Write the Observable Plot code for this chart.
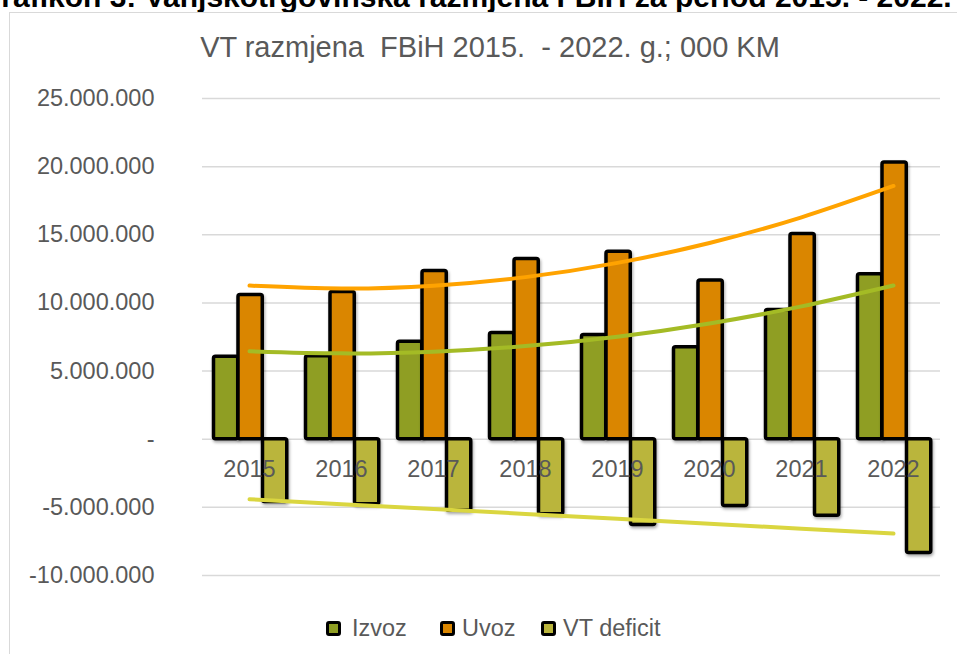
<!DOCTYPE html>
<html>
<head>
<meta charset="utf-8">
<script src="https://cdn.jsdelivr.net/npm/d3@7"></script>
<script src="https://cdn.jsdelivr.net/npm/@observablehq/plot@0.6"></script>
<style>
  body { margin: 0; background: #fff; font-family: "Liberation Sans", Arial, sans-serif; }
  #wrap { position: relative; width: 957px; height: 654px; overflow: hidden; background: #fff; }
  #toptext { position: absolute; left: -22px; top: -18px; font: bold 30px/30px "Liberation Sans", Arial, sans-serif; color: #000; white-space: pre; }
  #frame { position: absolute; left: 9px; top: 12px; width: 1000px; height: 700px; border: 1.5px solid #d9d9d9; box-sizing: border-box; background: #fff; }
  #chart { position: absolute; left: 0; top: 0; }
  #title { position: absolute; left: 0; width: 980px; top: 30px; text-align: center; font-size: 29px; line-height: 34px; color: #595959; white-space: pre; }
  .leg { position: absolute; top: 614px; font-size: 23.5px; line-height: 28px; color: #595959; white-space: pre; }
  .sw { position: absolute; top: 621px; width: 15px; height: 15px; border: 3px solid #000; border-radius: 3px; box-sizing: border-box; }
  svg g[aria-label="bar"] { filter: drop-shadow(1.5px 2px 1.5px rgba(0,0,0,0.35)); }
</style>
</head>
<body>
<div id="wrap">
  <div id="toptext">Grafikon 3: Vanjskotrgovinska razmjena FBiH za period 2015. - 2022.</div>
  <div id="frame"></div>
  <div id="chart"></div>
  <div id="title">VT razmjena  FBiH 2015.  - 2022. g.; 000 KM</div>
  <div class="sw" style="left:326px;background:#8f9e23"></div>
  <div class="leg" style="left:352px">Izvoz</div>
  <div class="sw" style="left:440px;background:#da8600"></div>
  <div class="leg" style="left:462px">Uvoz</div>
  <div class="sw" style="left:541px;background:#bab53c"></div>
  <div class="leg" style="left:563px">VT deficit</div>
</div>
<script>
// ---- data (000 KM) ----
const years = ["2015", "2016", "2017", "2018", "2019", "2020", "2021", "2022"];
const izvoz = [6050000, 6080000, 7160000, 7800000, 7650000, 6740000, 9480000, 12100000];
const uvoz = [10580000, 10800000, 12340000, 13220000, 13760000, 11640000, 15050000, 20300000];
const deficit = [-4600000, -4780000, -5250000, -5500000, -6300000, -4900000, -5620000, -8350000];
const yTicks = [-10000000, -5000000, 0, 5000000, 10000000, 15000000, 20000000, 25000000];

// least-squares polynomial trend (as in the spreadsheet trendlines)
function polyTrend(ys, deg) {
  const m = deg + 1, xs = ys.map((_, i) => i + 1);
  const A = Array.from({length: m}, (_, r) => {
    const row = [];
    for (let c = 0; c < m; c++) row.push(d3.sum(xs, x => x ** (r + c)));
    row.push(d3.sum(xs, (x, i) => ys[i] * x ** r));
    return row;
  });
  for (let p = 0; p < m; p++) {
    for (let r = p + 1; r < m; r++) {
      const f = A[r][p] / A[p][p];
      for (let c = p; c <= m; c++) A[r][c] -= f * A[p][c];
    }
  }
  const coef = Array(m).fill(0);
  for (let r = m - 1; r >= 0; r--) {
    let s = A[r][m];
    for (let c = r + 1; c < m; c++) s -= A[r][c] * coef[c];
    coef[r] = s / A[r][r];
  }
  return xs.map(x => coef.reduce((acc, k, j) => acc + k * x ** j, 0));
}
const trendIzvoz = polyTrend(izvoz, 2);
const trendUvoz = polyTrend(uvoz, 2);
const trendDeficit = polyTrend(deficit, 1);

const rows = years.map((year, i) => ({
  year, izvoz: izvoz[i], uvoz: uvoz[i], deficit: deficit[i],
  tIzvoz: trendIzvoz[i], tUvoz: trendUvoz[i], tDeficit: trendDeficit[i]
}));

const locale = d3.formatLocale({decimal: ",", thousands: ".", grouping: [3], currency: ["", ""], minus: "-"});
const fmt = locale.format(",d");

const W = 957, mL = 202, mR = 17;
const bw = (W - mL - mR) / years.length;
const barW = 24.5;
const barOpts = (left) => ({insetLeft: left, insetRight: bw - left - barW});

const plot = Plot.plot({
  width: W,
  height: 654,
  marginLeft: mL,
  marginRight: mR,
  marginTop: 98,
  marginBottom: 79,
  style: {fontFamily: "'Liberation Sans', Arial, sans-serif", fontSize: "23.5px", color: "#595959", background: "transparent"},
  x: {type: "band", domain: years, padding: 0, axis: null},
  y: {domain: [-10000000, 25000000], axis: null},
  marks: [
    Plot.gridY(yTicks, {stroke: "#d9d9d9", strokeOpacity: 1, strokeWidth: 1.5}),
    Plot.barY(rows, {x: "year", y: "izvoz", fill: "#8f9e23", stroke: "#000", strokeWidth: 3.5, strokeLinejoin: "round", rx: 2, ...barOpts(10.5)}),
    Plot.barY(rows, {x: "year", y: "uvoz", fill: "#da8600", stroke: "#000", strokeWidth: 3.5, strokeLinejoin: "round", rx: 2, ...barOpts(35)}),
    Plot.barY(rows, {x: "year", y: "deficit", fill: "#bab53c", stroke: "#000", strokeWidth: 3.5, strokeLinejoin: "round", rx: 2, ...barOpts(59.5)}),
    Plot.line(rows, {x: "year", y: "tUvoz", stroke: "#ffa300", strokeWidth: 4, curve: "natural"}),
    Plot.line(rows, {x: "year", y: "tIzvoz", stroke: "#a4bb25", strokeWidth: 4, curve: "natural"}),
    Plot.line(rows, {x: "year", y: "tDeficit", stroke: "#dad640", strokeWidth: 4}),
    Plot.text(years, {x: d => d, y: () => 0, dy: 30, text: d => d, fill: "#595959", fontSize: 23.5}),
    Plot.axisY(yTicks, {tickSize: 0, tickPadding: 48, tickFormat: d => d === 0 ? "-" : fmt(d), fill: "#595959", fontSize: 23.5})
  ]
});
document.getElementById("chart").appendChild(plot);
</script>
</body>
</html>
